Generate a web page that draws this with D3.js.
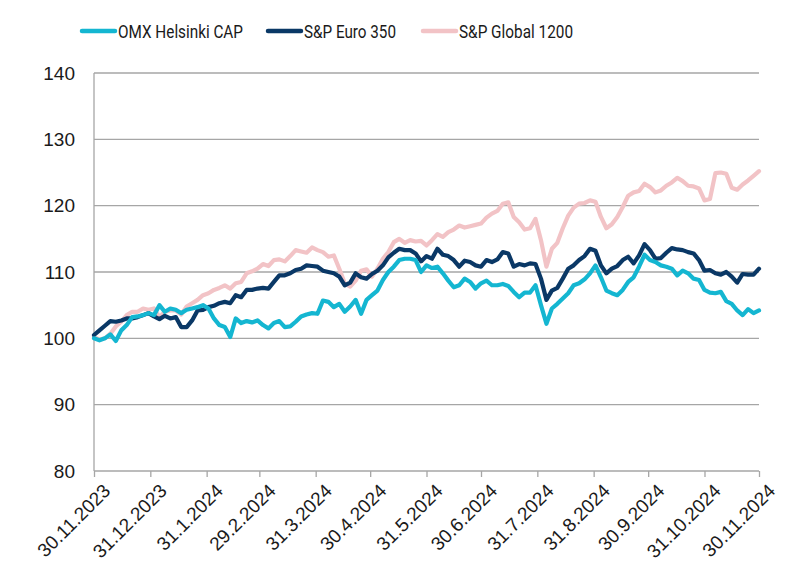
<!DOCTYPE html>
<html>
<head>
<meta charset="utf-8">
<script src="https://cdn.jsdelivr.net/npm/d3@7"></script>
<style>
  body { margin: 0; background: #fff; }
  svg { display: block; }
</style>
</head>
<body>
<div id="chart"></div>
<script>
// Day offsets from 30.11.2023 (every 3 days)
const startDate = new Date(2023, 10, 30);
const dayOffsets = d3.range(0, 367, 3);

const seriesNames = ["OMX Helsinki CAP", "S&P Euro 350", "S&P Global 1200"];
const seriesColors = ["#14b6d1", "#0a3866", "#f2c3c6"];

const omx = [
100,99.7,100,100.6,99.6,101.2,102,103.2,103.3,103.5,103.8,103.5,105,104,104.5,104.3,103.8,104.3,104.5,104.7,
105,104.5,103,102,101.7,100.2,103,102.3,102.6,102.4,102.7,102,101.5,102.3,102.6,101.7,101.8,102.5,103.3,103.6,
103.8,103.7,105.7,105.5,104.7,105.2,104,104.8,105.8,103.7,105.8,106.5,107.2,108.8,110,110.8,111.8,112,112,111.8,
110,111,110.6,110.8,109.8,108.7,107.7,108,109,108.5,107.5,108.3,108.7,108,108,108.2,107.9,107,106.2,106.9,
106.9,108,105,102.2,104.5,105.2,106,106.8,108,108.3,108.9,109.8,111,109.2,107.2,106.8,106.5,107.3,108.5,109.2,
110.8,112.6,111.8,111.5,111,110.8,110.5,109.5,110.2,109.8,109,108.8,107.3,106.9,106.8,107,105.6,105.2,104.2,103.5,
104.4,103.8,104.2];

const euro = [
100.5,101.2,101.9,102.6,102.5,102.7,103,103,103.2,103.5,103.8,103.3,102.9,103.4,103,103.2,101.7,101.7,102.7,104.2,
104.3,104.7,104.9,105.3,105.5,105.3,106.5,106.2,107.3,107.3,107.5,107.6,107.5,108.5,109.5,109.5,109.8,110.3,110.5,111,
110.9,110.8,110.2,110,109.8,109.3,108,108.4,109.8,109.2,109,109.7,110.2,111,112.2,112.9,113.5,113.3,113.3,112.8,
111.6,112.4,112,113.5,112.6,112.4,111.8,110.8,111.7,111.5,111,110.8,111.8,111.5,111.9,113,112.8,110.8,111.2,111,
111.3,111.2,109,105.8,107.2,107.6,109,110.5,111,111.8,112.4,113.5,113.2,111,109.8,110.5,110.9,111.8,112.3,111.3,
112.5,114.2,113.3,112,112.1,112.9,113.6,113.4,113.3,113,112.8,111.8,110.2,110.3,109.8,109.6,110,109.3,108.4,109.7,
109.6,109.6,110.5];

const global = [
100.2,99.8,100,100.7,101.8,102.5,103.5,104,104,104.5,104.3,104.5,103.2,104,104.2,104.2,103.6,104.8,105.3,105.8,
106.5,106.8,107.3,107.6,108,107.5,108.3,108.5,109.8,110.1,110.5,111.2,110.9,111.8,111.9,111.6,112.4,113.3,113.1,112.9,
113.7,113.3,113,112.3,112.5,110.5,108.3,107.8,108.7,110.2,110.4,109.3,110.5,112,113,114.5,115,114.4,114.8,114.6,
114.7,114,114.8,115.7,115.3,116,116.4,117,116.7,116.9,117.1,117.3,118.2,118.8,119.2,120.3,120.5,118.3,117.5,116.4,
116.6,118,114.8,110.8,113.5,114.4,116.6,118.5,119.7,120.3,120.4,120.8,120.6,118.3,116.6,117.2,118.3,119.8,121.5,122,
122.2,123.3,122.8,122,122.3,123,123.5,124.2,123.7,123,122.9,122.6,120.8,121,124.9,125,124.8,122.7,122.4,123.2,
123.8,124.5,125.2];

const yTicks = [80, 90, 100, 110, 120, 130, 140];
const xTickLabels = ["30.11.2023","31.12.2023","31.1.2024","29.2.2024","31.3.2024","30.4.2024","31.5.2024",
  "30.6.2024","31.7.2024","31.8.2024","30.9.2024","31.10.2024","30.11.2024"];

const W = 800, H = 587;
const margin = { left: 94, right: 41, top: 73, bottom: 116 };

const svg = d3.select("#chart").append("svg").attr("width", W).attr("height", H);

const parseTick = s => { const [d, m, y] = s.split(".").map(Number); return new Date(y, m - 1, d); };
const dates = dayOffsets.map(o => d3.timeDay.offset(startDate, o));

const x = d3.scaleTime()
  .domain([startDate, parseTick("30.11.2024")])
  .range([margin.left, W - margin.right]);
const y = d3.scaleLinear().domain([80, 140]).range([H - margin.bottom, margin.top]);

// gridlines
svg.append("g").selectAll("line").data(yTicks).join("line")
  .attr("x1", margin.left).attr("x2", W - margin.right)
  .attr("y1", d => y(d)).attr("y2", d => y(d))
  .attr("stroke", "#a6a6a6").attr("stroke-width", 1.3);

// left axis line
svg.append("line")
  .attr("x1", margin.left).attr("x2", margin.left)
  .attr("y1", y(140)).attr("y2", y(80))
  .attr("stroke", "#a6a6a6").attr("stroke-width", 1.3);

// y labels
svg.append("g").selectAll("text").data(yTicks).join("text")
  .attr("x", margin.left - 19).attr("y", d => y(d))
  .attr("dy", "0.35em").attr("text-anchor", "end")
  .attr("font-family", "Liberation Sans, Arial, sans-serif").attr("font-size", 19)
  .attr("fill", "#1a1a1a").text(d => d);

// x axis ticks
const xAxis = d3.axisBottom(x)
  .tickValues(xTickLabels.map(parseTick))
  .tickSize(6).tickSizeOuter(0)
  .tickFormat((d, i) => xTickLabels[i]);
const gx = svg.append("g").attr("transform", `translate(0,${y(80)})`).call(xAxis);
gx.select(".domain").remove();
gx.selectAll(".tick line").attr("stroke", "#a6a6a6").attr("stroke-width", 1.3);
gx.selectAll(".tick text")
  .attr("font-family", "Liberation Sans, Arial, sans-serif").attr("font-size", 19)
  .attr("fill", "#1a1a1a")
  .attr("text-anchor", "end")
  .attr("transform", "translate(7,11) rotate(-45)")
  .attr("dy", "0.75em").attr("y", 0).attr("x", 0);

// lines
const allSeries = [omx, euro, global];
const line = d3.line().x((d, i) => x(dates[i])).y(d => y(d)).curve(d3.curveLinear);
const order = [2, 1, 0];
order.forEach(si => {
  svg.append("path").datum(allSeries[si])
    .attr("d", line).attr("fill", "none")
    .attr("stroke", seriesColors[si]).attr("stroke-width", 4.2)
    .attr("stroke-linejoin", "round").attr("stroke-linecap", "round");
});

// legend
const legendX = [82, 268, 423];
const legendTextW = [125, 92, 114];
const lg = svg.append("g");
seriesNames.forEach((name, i) => {
  lg.append("line").attr("x1", legendX[i]).attr("x2", legendX[i] + 33)
    .attr("y1", 31).attr("y2", 31)
    .attr("stroke", seriesColors[i]).attr("stroke-width", 4.5).attr("stroke-linecap", "round");
  lg.append("text").attr("x", legendX[i] + 36).attr("y", 31).attr("dy", "0.36em")
    .attr("font-family", "Roboto, sans-serif").attr("font-size", 19)
    .attr("textLength", legendTextW[i]).attr("lengthAdjust", "spacingAndGlyphs")
    .attr("fill", "#1a1a1a").text(name);
});
</script>
</body>
</html>
